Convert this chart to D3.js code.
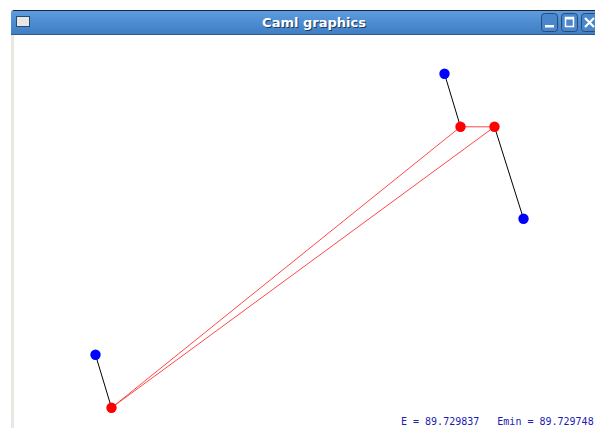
<!DOCTYPE html>
<html>
<head>
<meta charset="utf-8">
<script src="https://cdn.jsdelivr.net/npm/d3@7"></script>
<style>
  html, body { margin: 0; padding: 0; background: #fff; overflow: hidden; }
  svg { display: block; }
</style>
</head>
<body>
<svg id="chart" width="595" height="428"></svg>
<script>
// points in Caml window coordinates (origin bottom-left, y up)
const blueX = [430, 509, 81];
const blueY = [362, 217, 81];
const redX = [446, 480, 97];
const redY = [309, 309, 28];
// black links: blue i -> red link[i]
const links = [0, 1, 2];
// red polygon edges
const redEdges = [[0, 1], [0, 2], [1, 2]];
const energy = "89.729837";
const energyMin = "89.729748";

const svg = d3.select("#chart");
const width = 595, height = 428;

const winLeft = 11, winTop = 10, titleH = 25;
const canvasLeft = 14, canvasTop = winTop + titleH;

const x = d3.scaleLinear().domain([0, 600]).range([canvasLeft + 0.5, canvasLeft + 600.5]);
const y = d3.scaleLinear().domain([0, 400]).range([435.8, 35.8]);

// window frame
svg.append("rect").attr("x", winLeft).attr("y", winTop).attr("width", width).attr("height", height)
  .attr("fill", "#e9e7e1");
svg.append("rect").attr("x", canvasLeft).attr("y", canvasTop).attr("width", width).attr("height", height)
  .attr("fill", "#fff");

// title bar
const defs = svg.append("defs");
const grad = defs.append("linearGradient").attr("id", "tb").attr("x1", 0).attr("y1", 0).attr("x2", 0).attr("y2", 1);
grad.append("stop").attr("offset", "0%").attr("stop-color", "#5d9de0");
grad.append("stop").attr("offset", "100%").attr("stop-color", "#3f7cc2");

svg.append("path")
  .attr("d", `M${winLeft},${winTop + titleH} L${winLeft},${winTop + 3} Q${winLeft},${winTop} ${winLeft + 3},${winTop} L${width},${winTop} L${width},${winTop + titleH} Z`)
  .attr("fill", "url(#tb)");
svg.append("line").attr("x1", winLeft + 2).attr("x2", width).attr("y1", winTop + 0.5).attr("y2", winTop + 0.5)
  .attr("stroke", "#1c2636").attr("stroke-width", 1);
svg.append("line").attr("x1", winLeft).attr("x2", width).attr("y1", winTop + titleH - 0.5).attr("y2", winTop + titleH - 0.5)
  .attr("stroke", "#2c5a8c").attr("stroke-width", 1);

// window menu icon
svg.append("rect").attr("x", 16.5).attr("y", 16.5).attr("width", 13).attr("height", 10)
  .attr("fill", "#e6e6e6").attr("stroke", "#2a4a70");

svg.append("text").attr("x", 314).attr("y", 27).attr("text-anchor", "middle")
  .attr("font-family", "DejaVu Sans").attr("font-weight", "bold").attr("font-size", 13)
  .attr("fill", "#1e3a5c").attr("dx", 1).attr("dy", 1).text("Caml graphics");
svg.append("text").attr("x", 314).attr("y", 27).attr("text-anchor", "middle")
  .attr("font-family", "DejaVu Sans").attr("font-weight", "bold").attr("font-size", 13)
  .attr("fill", "#fff").text("Caml graphics");

// buttons
const btnX = [541, 561, 581];
btnX.forEach((bx, i) => {
  svg.append("rect").attr("x", bx + 0.5).attr("y", 13.5).attr("width", 16).attr("height", 18).attr("rx", 3)
    .attr("fill", "#4a86cc").attr("stroke", "#284c78");
  if (i === 0) {
    svg.append("rect").attr("x", bx + 4).attr("y", 25).attr("width", 9).attr("height", 2.5).attr("fill", "#fff");
  } else if (i === 1) {
    svg.append("rect").attr("x", bx + 4.5).attr("y", 17.5).attr("width", 8).attr("height", 9)
      .attr("fill", "none").attr("stroke", "#fff").attr("stroke-width", 1.5);
    svg.append("rect").attr("x", bx + 4).attr("y", 17).attr("width", 9).attr("height", 2.5).attr("fill", "#fff");
  } else {
    svg.append("path").attr("d", `M${bx + 4},${18} L${bx + 13},${27} M${bx + 13},${18} L${bx + 4},${27}`)
      .attr("stroke", "#fff").attr("stroke-width", 2.2);
  }
});

const plot = svg.append("g");

// black links
plot.selectAll("line.link").data(links).enter().append("line")
  .attr("class", "link")
  .attr("x1", (d, i) => x(blueX[i])).attr("y1", (d, i) => y(blueY[i]))
  .attr("x2", d => x(redX[d])).attr("y2", d => y(redY[d]))
  .attr("stroke", "#000").attr("stroke-width", 1);

// red edges
plot.selectAll("line.edge").data(redEdges).enter().append("line")
  .attr("class", "edge")
  .attr("x1", d => x(redX[d[0]])).attr("y1", d => y(redY[d[0]]))
  .attr("x2", d => x(redX[d[1]])).attr("y2", d => y(redY[d[1]]))
  .attr("stroke", "#ff4848").attr("stroke-width", 1);

plot.selectAll("circle.blue").data(blueX).enter().append("circle")
  .attr("class", "blue")
  .attr("cx", d => x(d)).attr("cy", (d, i) => y(blueY[i])).attr("r", 5.2)
  .attr("fill", "#0000ff");

plot.selectAll("circle.red").data(redX).enter().append("circle")
  .attr("class", "red")
  .attr("cx", d => x(d)).attr("cy", (d, i) => y(redY[i])).attr("r", 5.2)
  .attr("fill", "#ff0000");

svg.append("text").attr("x", 401).attr("y", 425)
  .attr("font-family", "DejaVu Sans Mono").attr("font-size", 10)
  .attr("fill", "#1c1cb0")
  .attr("xml:space", "preserve").style("white-space", "pre")
  .text(`E = ${energy}   Emin = ${energyMin}`);
</script>
</body>
</html>
